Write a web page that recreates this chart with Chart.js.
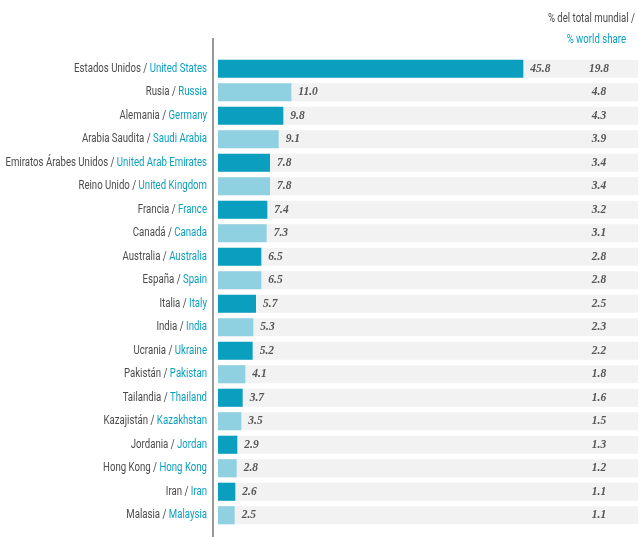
<!DOCTYPE html>
<html>
<head>
<meta charset="utf-8">
<script src="https://cdn.jsdelivr.net/npm/chart.js@4"></script>
<style>
  html, body { margin: 0; padding: 0; background: #fff; }
  #wrap { width: 641px; height: 537px; position: relative; }
</style>
</head>
<body>
<div id="wrap"><canvas id="myChart"></canvas></div>
<script>
// Países (español / inglés)
var nombresEs = ['Estados Unidos', 'Rusia', 'Alemania', 'Arabia Saudita', 'Emiratos Árabes Unidos',
  'Reino Unido', 'Francia', 'Canadá', 'Australia', 'España', 'Italia', 'India', 'Ucrania',
  'Pakistán', 'Tailandia', 'Kazajistán', 'Jordania', 'Hong Kong', 'Iran', 'Malasia'];
var nombresEn = ['United States', 'Russia', 'Germany', 'Saudi Arabia', 'United Arab Emirates',
  'United Kingdom', 'France', 'Canada', 'Australia', 'Spain', 'Italy', 'India', 'Ukraine',
  'Pakistan', 'Thailand', 'Kazakhstan', 'Jordan', 'Hong Kong', 'Iran', 'Malaysia'];
var valores = [45.8, 11.0, 9.8, 9.1, 7.8, 7.8, 7.4, 7.3, 6.5, 6.5, 5.7, 5.3, 5.2, 4.1, 3.7, 3.5, 2.9, 2.8, 2.6, 2.5];
var porcentaje = [19.8, 4.8, 4.3, 3.9, 3.4, 3.4, 3.2, 3.1, 2.8, 2.8, 2.5, 2.3, 2.2, 1.8, 1.6, 1.5, 1.3, 1.2, 1.1, 1.1];
var maxEje = 63;

var azulOscuro = '#0a9fbf';
var azulClaro = '#8fd0e1';
var gris = '#4a4a4a';
var fuenteEtiqueta = "12.5px Roboto, 'Liberation Sans', sans-serif";
var fuenteValor = "italic bold 11.5px 'Liberation Serif', 'DejaVu Serif', serif";
var estrecho = 0.77; // compresión horizontal del texto de etiquetas

var etiquetas = nombresEs.map(function(n, i) { return n + ' / ' + nombresEn[i]; });

// texto comprimido horizontalmente, anclado a la derecha
function textoEstrecho(ctx, txt, xDer, y) {
  var w = ctx.measureText(txt).width * estrecho;
  ctx.save();
  ctx.translate(xDer - w, y);
  ctx.scale(estrecho, 1);
  ctx.textAlign = 'left';
  ctx.fillText(txt, 0, 0);
  ctx.restore();
  return w;
}

// Etiquetas bicolores, valores y columna de porcentaje
var textosPlugin = {
  id: 'textos',
  afterDraw: function(chart) {
    var ctx = chart.ctx;
    var x = chart.scales.x, y = chart.scales.y;
    ctx.save();

    // línea vertical del eje
    ctx.strokeStyle = '#777';
    ctx.lineWidth = 1.5;
    ctx.beginPath();
    ctx.moveTo(213, 38);
    ctx.lineTo(213, 537);
    ctx.stroke();

    ctx.textBaseline = 'middle';
    nombresEs.forEach(function(es, i) {
      var py = y.getPixelForValue(i);
      // nombre en dos colores, alineado a la derecha
      ctx.font = fuenteEtiqueta;
      ctx.fillStyle = azulOscuro;
      var wEn = textoEstrecho(ctx, nombresEn[i], 207, py);
      ctx.fillStyle = gris;
      textoEstrecho(ctx, es + ' / ', 207 - wEn, py);

      // valor al final de la barra
      ctx.font = fuenteValor;
      ctx.textAlign = 'left';
      ctx.fillStyle = '#555';
      ctx.fillText(valores[i].toFixed(1), x.getPixelForValue(valores[i]) + 7, py);

      // porcentaje mundial
      ctx.textAlign = 'center';
      ctx.fillText(porcentaje[i].toFixed(1), 599, py);
    });

    // encabezado de la columna
    ctx.font = fuenteEtiqueta;
    ctx.fillStyle = gris;
    var t1 = '% del total mundial /';
    textoEstrecho(ctx, t1, 635, 19);
    ctx.fillStyle = azulOscuro;
    var t2 = '% world share';
    textoEstrecho(ctx, t2, 626, 40);
    ctx.restore();
  }
};

var ctx = document.getElementById('myChart').getContext('2d');
var myChart = new Chart(ctx, {
  type: 'bar',
  data: {
    labels: etiquetas,
    datasets: [{
      label: 'valor',
      data: valores,
      backgroundColor: valores.map(function(v, i) { return i % 2 === 0 ? azulOscuro : azulClaro; }),
      barPercentage: 1,
      categoryPercentage: 0.77,
      grouped: false,
      order: 1
    }, {
      // franjas grises de fondo
      label: 'fondo',
      data: valores.map(function() { return maxEje; }),
      backgroundColor: '#f2f2f2',
      barPercentage: 1,
      categoryPercentage: 0.77,
      grouped: false,
      order: 2
    }]
  },
  options: {
    indexAxis: 'y',
    responsive: true,
    maintainAspectRatio: false,
    animation: false,
    layout: { padding: { left: 218, right: 3, top: 57, bottom: 10 } },
    scales: {
      x: { display: false, min: 0, max: maxEje },
      y: { display: false }
    },
    plugins: {
      legend: { display: false },
      tooltip: { enabled: false }
    }
  },
  plugins: [textosPlugin]
});
</script>
</body>
</html>
